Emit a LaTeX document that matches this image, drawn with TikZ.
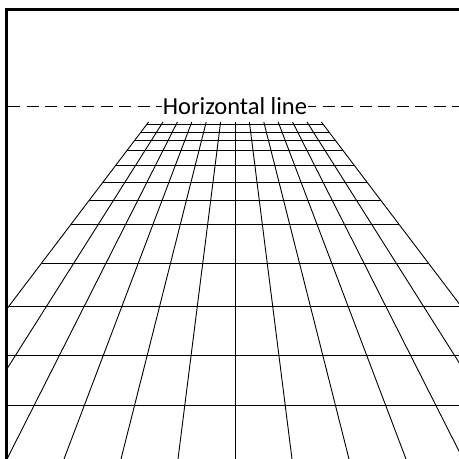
\documentclass[tikz,border=0pt]{standalone}
\usepackage{fontspec}
\newfontfamily\labelfont{Carlito}
\usetikzlibrary{calc}

\begin{document}
\begin{tikzpicture}[x=1pt, y=-1pt,
  gridline/.style={line width=0.9pt, black},
  frameline/.style={line width=2.6pt, black},
  horizonline/.style={line width=0.9pt, black, dash pattern=on 12pt off 6.5pt}]

  \useasboundingbox (0,0) rectangle (459,459);

  % ---------- frame ----------
  \draw[frameline] (6.5,459) -- (6.5,9.5) -- (459,9.5);

  % ---------- horizon ----------
  \draw[horizonline] (8,106) -- (459,106);
  \node[fill=white, inner sep=0.5pt, font=\labelfont\fontsize{24.5}{29}\selectfont] (horizon) at (235,106) {Horizontal line};

  % ---------- floor grid ----------
  \begin{scope}
    \clip (7.8,0) rectangle (459,459);

    % receding lines
    \foreach \k in {-6,...,6} {
      \draw[gridline] ({235+14.4*\k},122) -- ({235+57*\k},459);
    }

    % cross rows
    \foreach \r in {124,132.5,140.5,150.5,165,182,200,224.5,263,306,355.5,405} {
      \pgfmathsetmacro\w{6*(14.4+42.6*(\r-122)/337)}
      \draw[gridline] ({235-\w},\r) -- ({235+\w},\r);
    }
  \end{scope}

\end{tikzpicture}
\end{document}
